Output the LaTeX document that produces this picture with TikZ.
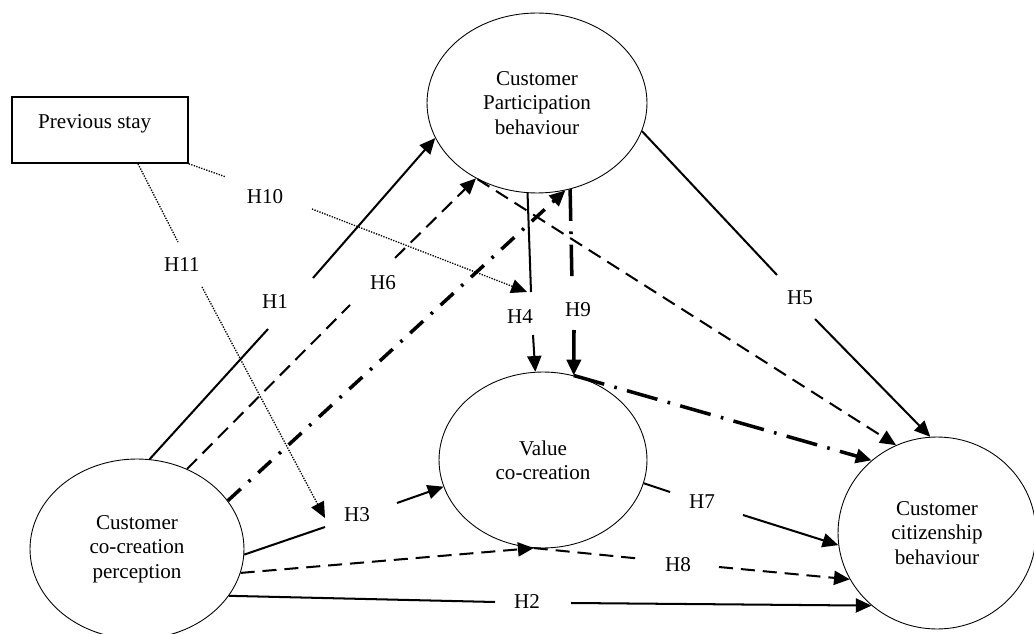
\documentclass[tikz,border=0pt]{standalone}
\usepackage{fontspec}
\setmainfont{Liberation Serif}
\usetikzlibrary{arrows.meta,shapes.geometric}
\begin{document}
\begin{tikzpicture}[x=0.02cm,y=-0.02cm,
  every node/.style={font=\fontsize{12}{13.9}\selectfont},
  oval/.style={ellipse,draw,line width=0.5pt,inner sep=0pt,align=center},
  conn/.style={line width=1.15pt},
  arr/.style={-{Triangle[length=9pt,width=8pt]}},
  dsh/.style={line width=1.15pt,dash pattern=on 8pt off 4.5pt},
  dotline/.style={line width=0.75pt,dash pattern=on 0.75pt off 0.75pt},
  dd/.style={line width=2pt,dash pattern=on 10pt off 6pt on 1.5pt off 6pt},
  ddl/.style={line width=2pt,dash pattern=on 18pt off 6pt on 1.5pt off 6pt},
  lab/.style={inner sep=0pt}]
\useasboundingbox (0,0) rectangle (1034,634);

% constructs
\node[oval,minimum width=4.4cm,minimum height=3.6cm] (cpb) at (537,103) {Customer\\Participation\\behaviour};
\node[oval,minimum width=4.28cm,minimum height=3.6cm] (ccp) at (137,549) {Customer\\co-creation\\perception};
\node[oval,minimum width=4.16cm,minimum height=3.52cm] (vcc) at (543,460) {Value\\co-creation};
\node[oval,minimum width=3.96cm,minimum height=3.84cm] (ccb) at (937,533) {Customer\\citizenship\\behaviour};
\node[draw,line width=0.9pt,minimum width=3.52cm,minimum height=1.32cm,inner sep=0pt] (prev) at (100,130) {};
\node[anchor=base west] (prevtxt) at (32,129) {Previous stay};

% labels
\node[lab] (h1) at (275,302) {H1};
\node[lab] (h2) at (527,602) {H2};
\node[lab] (h3) at (357,515) {H3};
\node[lab] (h4) at (520,317) {H4};
\node[lab] (h5) at (800,298) {H5};
\node[lab] (h6) at (383,283) {H6};
\node[lab] (h7) at (702,502) {H7};
\node[lab] (h8) at (678,565) {H8};
\node[lab] (h9) at (578,310) {H9};
\node[lab] (h10) at (265,197) {H10};
\node[lab] (h11) at (182,265) {H11};

% gap coordinates
\coordinate (g1a) at (268,329); \coordinate (g1b) at (313,278);
\coordinate (g2a) at (495,602); \coordinate (g2b) at (571,603);
\coordinate (g3a) at (325,527); \coordinate (g3b) at (397,503);
\coordinate (g4a) at (531,292); \coordinate (g4b) at (533,335);
\coordinate (g5a) at (777,275); \coordinate (g5b) at (815,319);
\coordinate (g6a) at (350,305); \coordinate (g6b) at (395,258);
\coordinate (g7a) at (670,492); \coordinate (g7b) at (743,515);
\coordinate (g8a) at (643,559); \coordinate (g8b) at (719,567);
\coordinate (g9a) at (572,283); \coordinate (g9b) at (574,330);
\coordinate (g10a) at (226,177); \coordinate (g10b) at (312,209);
\coordinate (g11a) at (178,242); \coordinate (g11b) at (202,287);
\coordinate (m10) at (527,292);
\coordinate (m11) at (325,518);

% H1
\draw[conn] (ccp.82.8) -- (g1a);
\draw[conn,arr] (g1b) -- (cpb.199.3);
% H6
\draw[dsh] (ccp.58.7) -- (g6a);
\draw[dsh,arr] (g6b) -- (cpb.231.2);
% dash-dot CCP -> CPB
\draw[dd,arr] (ccp.28.6) -- (cpb.288.8);
% H11
\draw[dotline] ([xshift=0.76cm]prev.south) -- (g11a);
\draw[dotline,arr] (g11b) -- (m11);
% H10
\draw[dotline] (prev.south east) -- (g10a);
\draw[dotline,arr] (g10b) -- (m10);
% H4
\draw[conn] (cpb.264.4) -- (g4a);
\draw[conn,arr] (g4b) -- (vcc.95.9);
% H9
\draw[ddl] (cpb.291.3) -- (g9a);
\draw[ddl,arr] (g9b) -- (vcc.70);
% dash-dot VCC -> CCB
\draw[ddl,arr] (vcc.70) -- (ccb.132.5);
% dashed CPB -> CCB
\draw[dsh,arr] (cpb.232.8) -- (ccb.115.2);
% H5
\draw[conn] (cpb.345.1) -- (g5a);
\draw[conn,arr] (g5b) -- (ccb.94.4);
% H3
\draw[conn] (ccp.357.9) -- (g3a);
\draw[conn,arr] (g3b) -- (vcc.195.1);
% H7
\draw[conn] (vcc.347.3) -- (g7a);
\draw[conn,arr] (g7b) -- (ccb.187);
% H8
\draw[dsh,arr] (ccp.347.2) -- (vcc.264.7);
\draw[dsh] (vcc.264.7) -- (g8a);
\draw[dsh,arr] (g8b) -- (ccb.208.6);
% H2
\draw[conn] (ccp.333.7) -- (g2a);
\draw[conn,arr] (g2b) -- (ccb.228.6);
\end{tikzpicture}
\end{document}
